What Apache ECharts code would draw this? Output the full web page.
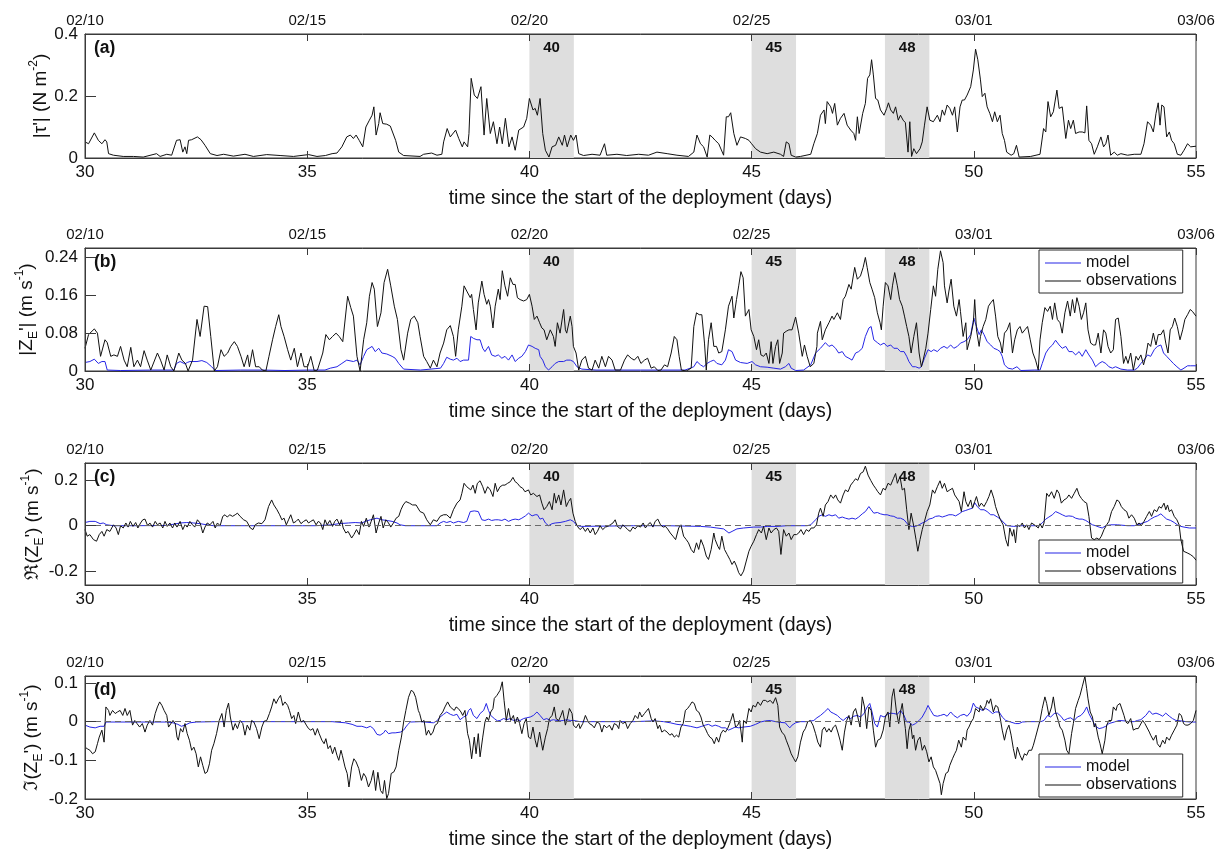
<!DOCTYPE html>
<html>
<head>
<meta charset="utf-8">
<script src="https://cdn.jsdelivr.net/npm/echarts@6/dist/echarts.min.js"></script>
<style>
html,body{margin:0;padding:0;background:#fff}
#chart{width:1225px;height:852px}
</style>
</head>
<body>
<div id="chart"></div>
<script>
// Day ticks (bottom axis) and calendar dates (top axis)
const dayTicks = [30, 35, 40, 45, 50, 55];
const dateLabels = ['02/10', '02/15', '02/20', '02/25', '03/01', '03/06'];
// Highlighted days: shaded from day to day + 1
const eventDays = [40, 45, 48];

// (a) wind stress anomaly magnitude [day, N m^-2]
const tauObs = [[30.00,0.052],[30.08,0.046],[30.21,0.081],[30.30,0.057],[30.38,0.046],[30.45,0.059],[30.49,0.052],[30.53,0.014],[30.64,0.009],[30.86,0.005],[31.09,0.005],[31.31,0.003],[31.61,0.014],[31.69,0.005],[31.84,0.012],[31.95,0.009],[32.06,0.057],[32.14,0.059],[32.20,0.019],[32.25,0.036],[32.29,0.014],[32.33,0.057],[32.40,0.059],[32.53,0.068],[32.61,0.059],[32.70,0.041],[32.82,0.014],[32.97,0.008],[33.12,0.012],[33.34,0.006],[33.60,0.012],[33.79,0.005],[34.09,0.011],[34.39,0.008],[34.69,0.005],[35.03,0.011],[35.22,0.005],[35.41,0.008],[35.56,0.014],[35.67,0.016],[35.78,0.036],[35.89,0.068],[35.97,0.074],[36.04,0.063],[36.10,0.074],[36.17,0.057],[36.25,0.036],[36.32,0.100],[36.40,0.122],[36.46,0.138],[36.50,0.165],[36.55,0.074],[36.61,0.111],[36.64,0.146],[36.70,0.111],[36.79,0.109],[36.87,0.103],[36.91,0.106],[36.99,0.057],[37.06,0.019],[37.17,0.008],[37.54,0.005],[37.62,0.012],[37.80,0.016],[37.92,0.009],[38.03,0.012],[38.07,0.052],[38.15,0.095],[38.22,0.068],[38.34,0.090],[38.41,0.063],[38.49,0.036],[38.53,0.052],[38.61,0.036],[38.64,0.079],[38.69,0.257],[38.76,0.203],[38.83,0.192],[38.91,0.230],[38.98,0.074],[39.04,0.192],[39.12,0.079],[39.19,0.117],[39.27,0.046],[39.33,0.100],[39.39,0.046],[39.46,0.128],[39.54,0.036],[39.61,0.068],[39.68,0.025],[39.76,0.090],[39.87,0.100],[39.94,0.128],[40.00,0.192],[40.08,0.155],[40.13,0.160],[40.18,0.138],[40.24,0.192],[40.30,0.079],[40.36,0.025],[40.44,0.003],[40.51,0.036],[40.59,0.041],[40.66,0.068],[40.74,0.041],[40.79,0.074],[40.85,0.036],[40.93,0.074],[40.99,0.057],[41.05,0.074],[41.11,0.014],[41.22,0.008],[41.41,0.012],[41.59,0.009],[41.69,0.046],[41.74,0.009],[41.97,0.012],[42.19,0.008],[42.46,0.012],[42.68,0.009],[42.87,0.019],[43.10,0.014],[43.32,0.009],[43.58,0.005],[43.70,0.019],[43.77,0.074],[43.85,0.046],[43.92,0.036],[44.00,0.003],[44.06,0.074],[44.11,0.068],[44.18,0.057],[44.26,0.046],[44.37,0.009],[44.43,0.133],[44.48,0.133],[44.53,0.146],[44.60,0.079],[44.67,0.041],[44.75,0.068],[44.86,0.063],[44.94,0.057],[45.00,0.046],[45.09,0.030],[45.20,0.019],[45.35,0.014],[45.50,0.019],[45.65,0.012],[45.72,0.005],[45.78,0.052],[45.84,0.046],[45.89,0.009],[45.99,0.003],[46.10,0.005],[46.33,0.012],[46.40,0.046],[46.48,0.079],[46.55,0.138],[46.63,0.155],[46.66,0.111],[46.70,0.182],[46.78,0.165],[46.82,0.144],[46.87,0.176],[46.93,0.106],[47.00,0.128],[47.08,0.144],[47.15,0.106],[47.23,0.090],[47.30,0.079],[47.34,0.057],[47.38,0.133],[47.42,0.079],[47.50,0.144],[47.56,0.176],[47.61,0.257],[47.66,0.268],[47.70,0.317],[47.74,0.268],[47.79,0.192],[47.84,0.187],[47.90,0.155],[47.98,0.138],[48.04,0.160],[48.08,0.178],[48.13,0.155],[48.19,0.144],[48.24,0.165],[48.30,0.122],[48.35,0.138],[48.41,0.122],[48.46,0.114],[48.52,0.019],[48.56,0.117],[48.60,0.005],[48.65,0.030],[48.71,0.014],[48.79,0.030],[48.84,0.052],[48.89,0.106],[48.95,0.165],[49.01,0.122],[49.09,0.117],[49.18,0.138],[49.24,0.117],[49.29,0.155],[49.34,0.138],[49.40,0.171],[49.46,0.160],[49.52,0.138],[49.57,0.165],[49.63,0.084],[49.69,0.165],[49.74,0.187],[49.79,0.187],[49.85,0.203],[49.93,0.230],[49.99,0.284],[50.04,0.351],[50.09,0.317],[50.15,0.252],[50.19,0.198],[50.25,0.209],[50.30,0.165],[50.36,0.144],[50.42,0.117],[50.47,0.149],[50.53,0.117],[50.59,0.138],[50.64,0.079],[50.69,0.057],[50.74,0.019],[50.84,0.009],[50.90,0.014],[50.96,0.041],[51.02,0.003],[51.28,0.005],[51.49,0.012],[51.57,0.095],[51.62,0.084],[51.67,0.182],[51.73,0.133],[51.79,0.149],[51.87,0.219],[51.92,0.160],[51.99,0.165],[52.07,0.063],[52.13,0.122],[52.18,0.095],[52.24,0.122],[52.29,0.079],[52.37,0.084],[52.44,0.084],[52.50,0.081],[52.54,0.168],[52.59,0.057],[52.65,0.046],[52.71,0.012],[52.78,0.036],[52.86,0.068],[52.92,0.036],[52.97,0.046],[53.02,0.074],[53.08,0.009],[53.16,0.019],[53.23,0.009],[53.31,0.014],[53.46,0.009],[53.61,0.012],[53.76,0.012],[53.83,0.046],[53.91,0.117],[53.98,0.106],[54.04,0.084],[54.10,0.144],[54.15,0.178],[54.19,0.106],[54.23,0.171],[54.28,0.165],[54.34,0.068],[54.40,0.084],[54.45,0.057],[54.51,0.046],[54.58,0.012],[54.66,0.009],[54.73,0.025],[54.81,0.046],[54.88,0.036],[55.00,0.038]];

// (b) magnitude of the Ekman velocity anomaly [day, m s^-1]
const zAbsModel = [[30.00,0.018],[30.11,0.020],[30.21,0.025],[30.30,0.016],[30.38,0.020],[30.45,0.020],[30.50,0.002],[30.80,0.001],[31.50,0.002],[32.00,0.002],[32.06,0.016],[32.14,0.020],[32.25,0.015],[32.30,0.018],[32.36,0.020],[32.52,0.020],[32.63,0.022],[32.74,0.018],[32.85,0.009],[32.93,0.001],[33.50,0.002],[34.00,0.002],[34.50,0.001],[35.00,0.002],[35.40,0.002],[35.52,0.006],[35.67,0.009],[35.78,0.016],[35.89,0.023],[36.04,0.020],[36.12,0.023],[36.19,0.013],[36.27,0.031],[36.34,0.045],[36.46,0.052],[36.53,0.041],[36.61,0.048],[36.68,0.038],[36.79,0.036],[36.91,0.031],[36.98,0.027],[37.06,0.016],[37.17,0.004],[37.55,0.002],[38.00,0.006],[38.07,0.016],[38.14,0.029],[38.22,0.025],[38.29,0.023],[38.37,0.027],[38.44,0.020],[38.52,0.023],[38.63,0.023],[38.68,0.073],[38.74,0.069],[38.82,0.066],[38.89,0.066],[38.95,0.048],[39.00,0.041],[39.08,0.052],[39.15,0.034],[39.23,0.031],[39.30,0.034],[39.38,0.027],[39.45,0.031],[39.53,0.023],[39.61,0.034],[39.68,0.020],[39.76,0.027],[39.83,0.031],[39.91,0.041],[39.98,0.055],[40.06,0.052],[40.13,0.048],[40.21,0.045],[40.24,0.031],[40.30,0.023],[40.36,0.009],[40.43,0.002],[40.51,0.009],[40.58,0.016],[40.66,0.020],[40.77,0.020],[40.84,0.023],[40.92,0.023],[40.99,0.020],[41.07,0.009],[41.18,0.004],[41.50,0.002],[42.00,0.002],[42.50,0.002],[43.00,0.002],[43.50,0.002],[43.62,0.006],[43.70,0.009],[43.77,0.020],[43.85,0.013],[43.92,0.009],[44.00,0.016],[44.07,0.020],[44.15,0.023],[44.22,0.016],[44.33,0.013],[44.41,0.023],[44.48,0.045],[44.56,0.041],[44.64,0.023],[44.75,0.018],[44.90,0.016],[45.01,0.020],[45.09,0.013],[45.20,0.009],[45.35,0.008],[45.50,0.006],[45.65,0.004],[45.76,0.009],[45.84,0.016],[45.89,0.006],[45.99,0.001],[46.17,0.002],[46.33,0.013],[46.44,0.038],[46.55,0.048],[46.66,0.060],[46.74,0.052],[46.81,0.055],[46.89,0.048],[46.96,0.038],[47.04,0.041],[47.11,0.031],[47.19,0.027],[47.26,0.023],[47.34,0.038],[47.41,0.041],[47.49,0.048],[47.56,0.073],[47.64,0.091],[47.69,0.094],[47.75,0.066],[47.83,0.060],[47.90,0.055],[47.98,0.059],[48.05,0.052],[48.13,0.055],[48.20,0.048],[48.28,0.048],[48.35,0.041],[48.43,0.041],[48.49,0.031],[48.54,0.020],[48.62,0.009],[48.69,0.009],[48.77,0.006],[48.82,0.009],[48.89,0.027],[48.97,0.045],[49.04,0.041],[49.10,0.045],[49.18,0.041],[49.25,0.048],[49.33,0.052],[49.40,0.048],[49.48,0.055],[49.55,0.048],[49.63,0.052],[49.70,0.059],[49.78,0.062],[49.85,0.066],[49.93,0.077],[50.00,0.112],[50.06,0.094],[50.12,0.077],[50.17,0.087],[50.23,0.077],[50.30,0.062],[50.38,0.055],[50.45,0.048],[50.53,0.045],[50.59,0.041],[50.64,0.031],[50.69,0.013],[50.77,0.006],[50.87,0.004],[50.97,0.009],[51.06,0.001],[51.36,0.002],[51.49,0.002],[51.54,0.016],[51.62,0.038],[51.69,0.048],[51.77,0.055],[51.84,0.065],[51.92,0.055],[51.99,0.048],[52.07,0.052],[52.14,0.041],[52.22,0.041],[52.29,0.034],[52.37,0.041],[52.44,0.031],[52.52,0.045],[52.59,0.034],[52.67,0.023],[52.74,0.009],[52.82,0.016],[52.89,0.020],[52.97,0.016],[53.04,0.009],[53.12,0.006],[53.19,0.009],[53.31,0.004],[53.46,0.002],[53.61,0.002],[53.68,0.006],[53.76,0.016],[53.83,0.023],[53.91,0.034],[53.98,0.031],[54.06,0.045],[54.13,0.052],[54.21,0.055],[54.27,0.038],[54.34,0.031],[54.42,0.023],[54.49,0.016],[54.57,0.009],[54.66,0.002],[54.73,0.006],[54.81,0.011],[54.88,0.011],[55.00,0.011]];
const zAbsObs = [[30.00,0.048],[30.08,0.077],[30.21,0.089],[30.28,0.080],[30.35,0.031],[30.45,0.066],[30.50,0.060],[30.58,0.031],[30.65,0.034],[30.73,0.031],[30.80,0.052],[30.88,0.023],[30.95,0.009],[31.03,0.050],[31.10,0.009],[31.18,0.023],[31.25,0.009],[31.33,0.043],[31.40,0.023],[31.48,0.002],[31.63,0.038],[31.70,0.023],[31.78,0.002],[31.85,0.034],[31.93,0.009],[32.00,0.000],[32.11,0.038],[32.18,0.023],[32.26,0.016],[32.32,0.000],[32.42,0.023],[32.52,0.109],[32.59,0.073],[32.68,0.137],[32.76,0.136],[32.83,0.073],[32.91,0.000],[32.98,0.009],[33.06,0.045],[33.13,0.031],[33.21,0.038],[33.28,0.052],[33.36,0.062],[33.43,0.052],[33.51,0.031],[33.58,0.009],[33.66,0.034],[33.70,0.009],[33.77,0.045],[33.84,0.009],[33.92,0.009],[33.99,0.002],[34.07,0.000],[34.14,0.031],[34.22,0.066],[34.29,0.094],[34.36,0.119],[34.41,0.094],[34.48,0.073],[34.56,0.045],[34.63,0.023],[34.71,0.048],[34.78,0.009],[34.86,0.038],[34.93,0.009],[35.01,0.009],[35.08,0.031],[35.16,0.000],[35.23,0.002],[35.35,0.038],[35.42,0.077],[35.50,0.066],[35.57,0.073],[35.65,0.080],[35.72,0.073],[35.80,0.062],[35.91,0.158],[35.98,0.134],[36.04,0.116],[36.12,0.031],[36.19,0.000],[36.27,0.066],[36.34,0.102],[36.40,0.158],[36.46,0.187],[36.51,0.173],[36.58,0.094],[36.66,0.123],[36.73,0.187],[36.81,0.215],[36.88,0.180],[36.96,0.137],[37.03,0.109],[37.11,0.045],[37.17,0.023],[37.26,0.080],[37.33,0.109],[37.41,0.116],[37.49,0.102],[37.54,0.073],[37.62,0.031],[37.69,0.020],[37.77,0.006],[37.84,0.023],[37.92,0.009],[37.99,0.038],[38.07,0.059],[38.14,0.087],[38.22,0.096],[38.29,0.073],[38.34,0.031],[38.40,0.087],[38.48,0.137],[38.53,0.180],[38.59,0.169],[38.63,0.173],[38.67,0.155],[38.70,0.162],[38.74,0.130],[38.80,0.087],[38.85,0.144],[38.93,0.190],[38.98,0.162],[39.04,0.141],[39.08,0.151],[39.12,0.137],[39.18,0.091],[39.23,0.137],[39.30,0.173],[39.34,0.151],[39.39,0.212],[39.45,0.180],[39.51,0.158],[39.57,0.197],[39.63,0.183],[39.68,0.183],[39.73,0.155],[39.79,0.151],[39.87,0.148],[39.94,0.151],[40.00,0.162],[40.06,0.137],[40.11,0.109],[40.17,0.116],[40.23,0.102],[40.28,0.091],[40.33,0.087],[40.39,0.066],[40.47,0.087],[40.54,0.073],[40.58,0.052],[40.63,0.102],[40.69,0.080],[40.77,0.130],[40.81,0.087],[40.84,0.080],[40.92,0.116],[40.96,0.094],[40.99,0.052],[41.05,0.038],[41.11,0.002],[41.18,0.023],[41.26,0.031],[41.33,0.006],[41.41,0.002],[41.48,0.023],[41.56,0.006],[41.63,0.031],[41.71,0.009],[41.78,0.031],[41.86,0.023],[41.93,0.002],[42.05,0.002],[42.14,0.023],[42.21,0.034],[42.29,0.027],[42.36,0.023],[42.44,0.031],[42.51,0.016],[42.59,0.023],[42.66,0.027],[42.74,0.006],[42.81,0.009],[42.89,0.001],[42.96,0.002],[43.04,0.013],[43.11,0.009],[43.19,0.038],[43.26,0.073],[43.32,0.066],[43.37,0.031],[43.42,0.002],[43.53,0.000],[43.64,0.006],[43.70,0.094],[43.76,0.123],[43.82,0.119],[43.88,0.119],[43.94,0.059],[43.98,0.002],[44.03,0.066],[44.09,0.102],[44.15,0.052],[44.21,0.052],[44.26,0.038],[44.33,0.041],[44.41,0.087],[44.48,0.137],[44.56,0.158],[44.60,0.112],[44.66,0.151],[44.71,0.180],[44.76,0.210],[44.81,0.197],[44.86,0.116],[44.94,0.130],[44.99,0.087],[45.05,0.073],[45.11,0.045],[45.16,0.066],[45.21,0.034],[45.27,0.031],[45.33,0.038],[45.39,0.016],[45.44,0.062],[45.48,0.016],[45.54,0.052],[45.59,0.066],[45.63,0.016],[45.69,0.038],[45.72,0.080],[45.78,0.084],[45.84,0.087],[45.91,0.087],[45.99,0.114],[46.06,0.080],[46.14,0.031],[46.19,0.055],[46.25,0.031],[46.32,0.009],[46.40,0.016],[46.47,0.052],[46.48,0.080],[46.55,0.105],[46.59,0.066],[46.66,0.087],[46.74,0.102],[46.81,0.116],[46.85,0.109],[46.93,0.123],[47.00,0.109],[47.06,0.151],[47.11,0.158],[47.19,0.183],[47.24,0.173],[47.32,0.219],[47.38,0.194],[47.45,0.201],[47.51,0.219],[47.56,0.240],[47.60,0.219],[47.66,0.187],[47.71,0.173],[47.77,0.155],[47.83,0.123],[47.89,0.102],[47.92,0.087],[47.96,0.137],[48.01,0.187],[48.07,0.180],[48.13,0.151],[48.17,0.180],[48.22,0.208],[48.28,0.180],[48.33,0.151],[48.39,0.137],[48.44,0.116],[48.49,0.094],[48.54,0.073],[48.59,0.038],[48.65,0.073],[48.71,0.102],[48.77,0.038],[48.82,0.009],[48.86,0.023],[48.92,0.048],[48.97,0.080],[49.03,0.130],[49.09,0.180],[49.14,0.158],[49.19,0.215],[49.25,0.254],[49.31,0.229],[49.34,0.180],[49.40,0.144],[49.44,0.169],[49.49,0.194],[49.55,0.137],[49.61,0.116],[49.67,0.151],[49.70,0.126],[49.76,0.073],[49.82,0.102],[49.85,0.045],[49.93,0.073],[49.99,0.102],[50.02,0.151],[50.06,0.087],[50.12,0.052],[50.15,0.073],[50.21,0.094],[50.27,0.109],[50.33,0.137],[50.38,0.144],[50.44,0.151],[50.49,0.116],[50.54,0.073],[50.60,0.059],[50.64,0.038],[50.69,0.080],[50.75,0.087],[50.81,0.102],[50.87,0.038],[50.92,0.066],[50.98,0.087],[51.04,0.094],[51.09,0.080],[51.15,0.087],[51.21,0.094],[51.27,0.066],[51.33,0.038],[51.39,0.023],[51.45,0.002],[51.49,0.066],[51.54,0.102],[51.60,0.134],[51.66,0.126],[51.72,0.137],[51.77,0.109],[51.82,0.144],[51.88,0.109],[51.94,0.102],[51.99,0.080],[52.05,0.123],[52.11,0.148],[52.17,0.116],[52.22,0.151],[52.27,0.123],[52.32,0.155],[52.37,0.137],[52.42,0.109],[52.47,0.123],[52.52,0.144],[52.57,0.087],[52.63,0.059],[52.69,0.055],[52.74,0.055],[52.80,0.080],[52.86,0.038],[52.92,0.087],[52.97,0.080],[53.02,0.052],[53.08,0.038],[53.14,0.045],[53.19,0.109],[53.25,0.112],[53.31,0.073],[53.37,0.016],[53.42,0.031],[53.47,0.016],[53.53,0.038],[53.59,0.002],[53.65,0.031],[53.70,0.023],[53.76,0.034],[53.82,0.013],[53.87,0.031],[53.92,0.059],[53.98,0.052],[54.04,0.080],[54.10,0.055],[54.15,0.077],[54.21,0.077],[54.27,0.087],[54.32,0.059],[54.37,0.038],[54.42,0.087],[54.47,0.094],[54.52,0.112],[54.58,0.094],[54.64,0.066],[54.70,0.087],[54.75,0.109],[54.81,0.119],[54.87,0.130],[54.92,0.126],[55.00,0.116]];

// (c) real part of the Ekman velocity anomaly [day, m s^-1]
const zReModel = [[30.00,0.014],[30.11,0.019],[30.23,0.019],[30.34,0.009],[30.41,0.012],[30.49,0.004],[30.64,0.000],[31.09,0.000],[31.84,0.001],[32.14,0.012],[32.29,0.014],[32.44,0.012],[32.59,0.009],[32.74,0.004],[32.89,0.000],[34.89,0.000],[35.19,0.000],[35.56,0.004],[35.71,0.009],[35.93,0.012],[36.08,0.014],[36.23,0.012],[36.31,0.019],[36.42,0.026],[36.57,0.033],[36.68,0.026],[36.79,0.023],[36.91,0.019],[37.02,0.012],[37.09,0.004],[37.21,0.000],[37.92,0.000],[37.99,0.012],[38.07,0.019],[38.14,0.014],[38.22,0.019],[38.29,0.012],[38.40,0.019],[38.52,0.014],[38.59,0.019],[38.67,0.062],[38.76,0.065],[38.85,0.062],[38.93,0.026],[39.00,0.023],[39.08,0.029],[39.15,0.023],[39.23,0.026],[39.30,0.026],[39.38,0.023],[39.45,0.029],[39.53,0.019],[39.61,0.026],[39.68,0.029],[39.76,0.026],[39.83,0.033],[39.91,0.043],[39.98,0.055],[40.06,0.043],[40.13,0.048],[40.18,0.048],[40.24,0.029],[40.30,0.033],[40.36,0.012],[40.43,0.000],[40.51,0.009],[40.58,0.012],[40.69,0.014],[40.81,0.019],[40.92,0.026],[40.99,0.019],[41.07,0.000],[41.18,-0.003],[42.34,0.000],[43.10,0.000],[43.85,-0.003],[44.07,-0.006],[44.22,-0.010],[44.37,-0.014],[44.49,-0.032],[44.56,-0.025],[44.67,-0.014],[44.82,-0.010],[45.05,-0.006],[45.20,-0.006],[45.35,-0.003],[45.57,-0.003],[45.80,0.000],[46.02,0.000],[46.25,0.000],[46.33,0.004],[46.44,0.026],[46.51,0.041],[46.59,0.048],[46.66,0.041],[46.74,0.048],[46.81,0.043],[46.89,0.048],[46.96,0.033],[47.04,0.038],[47.11,0.033],[47.19,0.029],[47.26,0.033],[47.34,0.029],[47.41,0.038],[47.49,0.052],[47.56,0.062],[47.64,0.084],[47.69,0.070],[47.75,0.055],[47.83,0.058],[47.90,0.052],[47.98,0.048],[48.05,0.048],[48.13,0.043],[48.20,0.041],[48.28,0.033],[48.35,0.033],[48.43,0.026],[48.49,0.012],[48.54,0.000],[48.62,-0.003],[48.69,-0.003],[48.77,0.004],[48.84,0.012],[48.92,0.019],[48.99,0.029],[49.07,0.033],[49.14,0.041],[49.22,0.043],[49.29,0.038],[49.37,0.043],[49.44,0.048],[49.52,0.048],[49.59,0.043],[49.67,0.052],[49.74,0.062],[49.82,0.067],[49.89,0.072],[49.97,0.077],[50.02,0.101],[50.08,0.084],[50.15,0.070],[50.23,0.070],[50.30,0.062],[50.38,0.048],[50.45,0.048],[50.53,0.038],[50.60,0.029],[50.68,0.012],[50.75,0.000],[50.90,-0.003],[51.05,0.000],[51.47,0.000],[51.54,0.012],[51.62,0.029],[51.69,0.038],[51.77,0.048],[51.84,0.062],[51.92,0.055],[51.99,0.048],[52.07,0.041],[52.14,0.043],[52.22,0.041],[52.29,0.033],[52.37,0.029],[52.44,0.029],[52.52,0.023],[52.59,0.014],[52.67,0.004],[52.74,0.000],[52.82,-0.006],[52.89,-0.010],[52.97,0.000],[53.08,0.004],[53.23,0.004],[53.46,0.000],[53.61,0.000],[53.68,0.004],[53.76,0.009],[53.83,0.014],[53.91,0.019],[53.98,0.029],[54.06,0.038],[54.13,0.043],[54.21,0.052],[54.27,0.041],[54.34,0.029],[54.43,0.023],[54.51,0.014],[54.58,0.004],[54.66,-0.003],[54.73,-0.006],[54.85,-0.010],[55.00,-0.010]];
const zReObs = [[30.00,-0.017],[30.05,-0.046],[30.11,-0.039],[30.19,-0.061],[30.26,-0.068],[30.32,-0.039],[30.38,-0.025],[30.43,-0.046],[30.49,-0.017],[30.56,-0.025],[30.64,0.004],[30.70,-0.010],[30.75,-0.039],[30.80,0.000],[30.86,-0.010],[30.92,0.012],[30.97,-0.006],[31.02,0.019],[31.08,-0.003],[31.14,0.014],[31.19,-0.010],[31.25,0.012],[31.30,0.026],[31.35,0.029],[31.41,0.000],[31.46,0.012],[31.52,-0.006],[31.58,0.019],[31.63,0.004],[31.69,0.012],[31.75,-0.010],[31.80,0.019],[31.85,-0.003],[31.91,0.012],[31.97,-0.010],[32.02,0.012],[32.07,-0.006],[32.14,0.019],[32.20,-0.017],[32.25,0.004],[32.30,-0.006],[32.36,0.019],[32.42,0.004],[32.47,-0.006],[32.53,0.026],[32.59,0.012],[32.65,-0.032],[32.70,-0.006],[32.75,0.012],[32.81,0.004],[32.88,0.019],[32.93,-0.010],[32.98,0.012],[33.04,0.000],[33.10,0.041],[33.15,0.048],[33.20,0.038],[33.26,0.048],[33.32,0.041],[33.38,0.048],[33.43,0.055],[33.49,0.041],[33.57,0.026],[33.64,0.019],[33.72,-0.010],[33.78,-0.017],[33.83,0.004],[33.90,0.012],[33.98,0.009],[34.05,0.026],[34.13,0.084],[34.20,0.113],[34.25,0.091],[34.32,0.070],[34.38,0.048],[34.43,0.026],[34.48,0.033],[34.53,0.004],[34.58,0.026],[34.63,0.048],[34.69,0.012],[34.75,0.019],[34.80,0.029],[34.86,0.009],[34.92,0.019],[34.98,0.026],[35.03,0.012],[35.08,0.019],[35.14,0.026],[35.20,0.004],[35.25,0.019],[35.30,0.012],[35.35,-0.017],[35.40,0.026],[35.45,0.004],[35.51,0.023],[35.57,-0.003],[35.62,0.019],[35.67,0.029],[35.73,0.004],[35.77,0.026],[35.81,-0.010],[35.87,-0.032],[35.92,-0.025],[36.00,-0.054],[36.05,-0.039],[36.11,-0.017],[36.17,-0.039],[36.22,0.019],[36.27,-0.003],[36.33,0.033],[36.39,-0.006],[36.44,0.019],[36.49,0.048],[36.55,-0.032],[36.61,0.012],[36.66,0.041],[36.71,-0.010],[36.77,0.026],[36.83,0.012],[36.88,-0.006],[36.94,0.012],[37.00,0.033],[37.06,0.041],[37.11,0.070],[37.16,0.091],[37.22,0.106],[37.30,0.099],[37.37,0.091],[37.45,0.091],[37.54,0.062],[37.62,0.055],[37.69,0.026],[37.77,0.004],[37.84,0.026],[37.92,0.019],[37.99,0.041],[38.07,0.048],[38.14,0.048],[38.22,0.033],[38.29,0.070],[38.37,0.099],[38.44,0.113],[38.48,0.142],[38.53,0.186],[38.59,0.171],[38.63,0.178],[38.68,0.157],[38.73,0.178],[38.78,0.142],[38.83,0.186],[38.89,0.197],[38.95,0.171],[39.00,0.142],[39.06,0.171],[39.12,0.157],[39.18,0.128],[39.23,0.186],[39.28,0.149],[39.34,0.171],[39.40,0.178],[39.45,0.178],[39.51,0.186],[39.57,0.193],[39.63,0.212],[39.68,0.193],[39.73,0.186],[39.79,0.171],[39.85,0.164],[39.90,0.149],[39.98,0.157],[40.03,0.135],[40.09,0.142],[40.17,0.128],[40.23,0.135],[40.28,0.099],[40.33,0.070],[40.39,0.084],[40.45,0.106],[40.51,0.070],[40.56,0.142],[40.60,0.099],[40.66,0.135],[40.71,0.091],[40.77,0.157],[40.83,0.084],[40.88,0.106],[40.93,0.120],[40.98,0.055],[41.03,0.019],[41.08,-0.003],[41.14,-0.017],[41.20,-0.006],[41.26,-0.025],[41.31,-0.010],[41.37,-0.032],[41.43,-0.010],[41.48,-0.039],[41.53,-0.025],[41.59,0.000],[41.65,-0.017],[41.71,-0.006],[41.76,-0.003],[41.82,0.004],[41.88,0.012],[41.93,0.026],[41.98,-0.003],[42.05,-0.014],[42.10,0.004],[42.16,-0.006],[42.21,-0.017],[42.27,-0.025],[42.33,-0.006],[42.38,-0.014],[42.44,0.000],[42.50,-0.006],[42.56,0.012],[42.61,-0.010],[42.66,0.004],[42.72,0.014],[42.78,-0.006],[42.83,0.019],[42.89,0.029],[42.95,0.004],[43.01,-0.006],[43.06,-0.003],[43.11,-0.014],[43.17,-0.032],[43.23,-0.046],[43.29,-0.061],[43.36,-0.010],[43.41,0.004],[43.47,-0.046],[43.53,-0.061],[43.58,-0.075],[43.64,-0.104],[43.70,-0.119],[43.76,-0.075],[43.81,-0.104],[43.86,-0.061],[43.92,-0.090],[43.98,-0.133],[44.03,-0.148],[44.09,-0.104],[44.15,-0.032],[44.18,-0.061],[44.24,-0.090],[44.28,-0.104],[44.33,-0.046],[44.39,-0.104],[44.45,-0.126],[44.51,-0.148],[44.56,-0.170],[44.61,-0.155],[44.66,-0.177],[44.71,-0.206],[44.76,-0.220],[44.82,-0.199],[44.88,-0.155],[44.94,-0.112],[44.99,-0.090],[45.05,-0.068],[45.11,-0.039],[45.16,-0.017],[45.22,-0.032],[45.27,-0.003],[45.33,-0.061],[45.39,-0.010],[45.44,-0.032],[45.50,-0.017],[45.56,-0.010],[45.61,-0.025],[45.66,-0.126],[45.72,-0.017],[45.78,-0.046],[45.84,-0.032],[45.89,-0.061],[45.95,-0.039],[46.01,-0.039],[46.06,-0.032],[46.11,-0.017],[46.17,-0.039],[46.23,-0.017],[46.29,-0.025],[46.34,-0.010],[46.40,-0.010],[46.46,0.004],[46.51,0.055],[46.55,0.077],[46.61,0.041],[46.66,0.091],[46.72,0.106],[46.78,0.135],[46.84,0.120],[46.89,0.135],[46.94,0.113],[47.00,0.099],[47.06,0.135],[47.11,0.157],[47.17,0.149],[47.23,0.178],[47.29,0.193],[47.34,0.206],[47.39,0.199],[47.45,0.229],[47.51,0.236],[47.56,0.261],[47.62,0.222],[47.68,0.199],[47.74,0.178],[47.79,0.164],[47.84,0.149],[47.90,0.135],[47.96,0.164],[48.01,0.157],[48.07,0.186],[48.13,0.178],[48.19,0.206],[48.24,0.229],[48.28,0.186],[48.34,0.215],[48.39,0.157],[48.44,0.164],[48.49,0.070],[48.54,-0.017],[48.59,0.055],[48.65,-0.003],[48.70,-0.061],[48.74,-0.112],[48.79,-0.061],[48.84,-0.017],[48.89,0.019],[48.95,0.062],[49.01,0.091],[49.07,0.157],[49.12,0.142],[49.18,0.171],[49.24,0.197],[49.29,0.164],[49.34,0.186],[49.40,0.149],[49.46,0.157],[49.52,0.164],[49.57,0.135],[49.61,0.142],[49.67,0.106],[49.72,0.062],[49.78,0.149],[49.82,0.106],[49.87,0.084],[49.93,0.113],[49.97,0.077],[50.02,0.106],[50.06,0.128],[50.12,0.084],[50.17,0.099],[50.23,0.084],[50.29,0.106],[50.34,0.128],[50.39,0.157],[50.45,0.120],[50.49,0.084],[50.54,0.055],[50.60,0.026],[50.66,0.004],[50.72,-0.061],[50.77,-0.090],[50.81,-0.010],[50.87,-0.046],[50.90,-0.017],[50.94,-0.075],[50.98,0.004],[51.04,-0.003],[51.09,0.012],[51.14,-0.010],[51.19,0.004],[51.24,-0.017],[51.30,0.012],[51.34,0.004],[51.39,0.000],[51.45,-0.010],[51.49,0.009],[51.54,-0.010],[51.58,0.012],[51.64,0.142],[51.69,0.128],[51.75,0.149],[51.81,0.120],[51.87,0.157],[51.92,0.142],[51.97,0.099],[52.03,0.113],[52.09,0.120],[52.14,0.135],[52.20,0.120],[52.26,0.142],[52.32,0.164],[52.37,0.135],[52.42,0.120],[52.48,0.106],[52.54,0.099],[52.59,0.041],[52.65,-0.054],[52.71,-0.061],[52.77,-0.054],[52.82,-0.061],[52.87,-0.046],[52.93,-0.017],[52.99,0.004],[53.04,0.019],[53.10,0.062],[53.16,0.084],[53.22,0.113],[53.27,0.106],[53.32,0.084],[53.38,0.070],[53.44,0.062],[53.49,0.033],[53.55,0.048],[53.61,0.033],[53.67,0.004],[53.72,0.012],[53.77,0.000],[53.83,0.019],[53.89,0.041],[53.95,0.062],[54.00,0.041],[54.06,0.070],[54.12,0.062],[54.17,0.084],[54.22,0.077],[54.28,0.099],[54.32,0.070],[54.36,0.091],[54.40,0.062],[54.45,0.070],[54.51,0.041],[54.57,0.026],[54.62,0.004],[54.66,-0.061],[54.72,-0.112],[54.80,-0.119],[54.87,-0.126],[54.94,-0.136],[55.00,-0.151]];

// (d) imaginary part of the Ekman velocity anomaly [day, m s^-1]
const zImModel = [[30.00,-0.009],[30.11,-0.014],[30.23,-0.016],[30.34,-0.012],[30.43,-0.012],[30.47,-0.001],[30.56,-0.001],[31.08,-0.001],[31.83,-0.001],[31.98,-0.003],[32.09,-0.007],[32.17,-0.012],[32.25,-0.009],[32.36,-0.003],[32.51,-0.001],[32.96,0.000],[35.56,0.000],[35.86,-0.003],[36.01,-0.007],[36.12,-0.012],[36.23,-0.012],[36.34,-0.016],[36.42,-0.012],[36.49,-0.018],[36.57,-0.033],[36.64,-0.035],[36.72,-0.029],[36.76,-0.022],[36.83,-0.031],[36.91,-0.029],[36.98,-0.029],[37.10,-0.027],[37.17,-0.022],[37.25,-0.009],[37.32,-0.001],[37.55,0.000],[37.84,-0.003],[37.92,0.002],[37.99,0.012],[38.07,0.019],[38.14,0.025],[38.22,0.019],[38.29,0.016],[38.37,0.019],[38.44,0.005],[38.52,0.012],[38.59,0.016],[38.63,0.029],[38.68,0.034],[38.74,0.016],[38.82,0.008],[38.89,0.021],[38.97,0.029],[39.03,0.047],[39.08,0.029],[39.13,0.016],[39.21,0.008],[39.28,0.002],[39.34,0.003],[39.42,0.008],[39.49,0.005],[39.57,0.008],[39.64,0.003],[39.72,0.005],[39.79,0.003],[39.87,0.008],[39.94,0.010],[40.02,0.012],[40.09,0.016],[40.17,0.025],[40.24,0.016],[40.32,0.005],[40.39,0.008],[40.47,0.003],[40.54,0.005],[40.62,0.003],[40.69,0.002],[40.77,0.003],[40.84,0.005],[40.92,0.003],[40.99,0.003],[41.14,0.000],[42.35,0.000],[42.80,0.002],[43.02,0.000],[43.17,-0.003],[43.32,-0.007],[43.47,-0.009],[43.62,-0.012],[43.77,-0.016],[43.88,-0.012],[43.96,-0.009],[44.03,-0.007],[44.11,-0.012],[44.18,-0.009],[44.26,-0.012],[44.33,-0.016],[44.41,-0.016],[44.48,-0.022],[44.56,-0.018],[44.63,-0.014],[44.71,-0.016],[44.82,-0.014],[44.97,-0.012],[45.09,-0.007],[45.20,-0.001],[45.31,0.002],[45.42,0.003],[45.54,0.000],[45.65,-0.002],[45.76,-0.003],[45.80,-0.009],[45.86,-0.016],[45.91,-0.009],[45.99,-0.003],[46.10,0.000],[46.25,0.000],[46.40,0.003],[46.47,0.010],[46.55,0.016],[46.59,0.020],[46.64,0.025],[46.72,0.034],[46.78,0.025],[46.85,0.021],[46.93,0.016],[47.00,0.008],[47.06,0.003],[47.15,0.012],[47.23,0.008],[47.30,0.014],[47.38,0.016],[47.45,0.012],[47.53,0.021],[47.60,0.038],[47.66,0.047],[47.71,0.025],[47.77,-0.005],[47.83,-0.014],[47.90,0.016],[47.98,0.012],[48.05,0.019],[48.13,0.022],[48.20,0.021],[48.28,0.019],[48.35,0.029],[48.43,0.016],[48.49,-0.001],[48.54,-0.001],[48.62,-0.009],[48.69,-0.005],[48.77,0.003],[48.84,0.012],[48.92,0.029],[48.97,0.042],[49.03,0.029],[49.10,0.016],[49.18,0.014],[49.25,0.016],[49.33,0.019],[49.40,0.014],[49.48,0.025],[49.55,0.016],[49.63,0.010],[49.70,0.016],[49.78,0.019],[49.85,0.014],[49.93,0.025],[49.99,0.048],[50.04,0.038],[50.12,0.034],[50.19,0.029],[50.27,0.034],[50.34,0.029],[50.42,0.021],[50.49,0.025],[50.57,0.025],[50.64,0.012],[50.72,0.003],[50.83,-0.001],[50.94,-0.005],[51.02,-0.005],[51.09,-0.001],[51.21,0.000],[51.51,0.000],[51.58,0.003],[51.66,0.016],[51.73,0.012],[51.81,0.021],[51.88,0.022],[51.96,0.014],[52.03,0.003],[52.11,0.008],[52.18,0.010],[52.26,0.003],[52.33,0.012],[52.41,0.016],[52.48,0.025],[52.54,0.038],[52.59,0.021],[52.67,0.003],[52.74,-0.012],[52.82,-0.018],[52.89,-0.016],[52.97,-0.012],[53.04,-0.005],[53.16,-0.001],[53.27,0.003],[53.38,0.002],[53.49,0.000],[53.61,0.000],[53.68,0.003],[53.76,0.005],[53.87,0.016],[53.95,0.028],[54.02,0.019],[54.10,0.022],[54.17,0.019],[54.25,0.014],[54.32,0.022],[54.40,0.014],[54.47,0.008],[54.55,0.003],[54.66,0.002],[54.77,0.000],[54.89,-0.001],[55.00,-0.001]];
const zImObs = [[30.00,-0.066],[30.05,-0.070],[30.11,-0.074],[30.17,-0.083],[30.23,-0.078],[30.28,-0.057],[30.32,-0.040],[30.38,-0.022],[30.43,-0.053],[30.47,0.038],[30.53,0.029],[30.56,0.016],[30.62,0.029],[30.68,0.021],[30.73,0.025],[30.79,0.029],[30.85,0.016],[30.90,0.034],[30.95,0.016],[31.01,0.029],[31.07,-0.009],[31.12,0.003],[31.17,-0.005],[31.23,-0.014],[31.29,-0.005],[31.35,-0.027],[31.40,-0.009],[31.46,0.003],[31.52,-0.009],[31.58,0.021],[31.63,0.038],[31.68,0.051],[31.73,0.042],[31.78,0.029],[31.84,0.016],[31.88,-0.014],[31.92,-0.009],[31.98,0.003],[32.03,-0.005],[32.07,-0.040],[32.10,-0.048],[32.15,-0.018],[32.20,-0.027],[32.25,-0.005],[32.30,-0.031],[32.35,-0.048],[32.40,-0.074],[32.45,-0.066],[32.50,-0.083],[32.55,-0.117],[32.60,-0.091],[32.65,-0.113],[32.70,-0.134],[32.75,-0.130],[32.80,-0.109],[32.85,-0.074],[32.90,-0.057],[32.96,-0.031],[33.02,0.003],[33.08,0.021],[33.13,-0.014],[33.18,0.029],[33.23,0.048],[33.27,0.012],[33.33,-0.022],[33.38,-0.005],[33.43,-0.018],[33.49,0.003],[33.55,-0.005],[33.60,-0.035],[33.65,-0.009],[33.71,-0.022],[33.75,0.003],[33.80,-0.001],[33.86,-0.018],[33.92,-0.044],[33.98,-0.014],[34.03,0.001],[34.09,0.003],[34.15,0.021],[34.20,0.038],[34.25,0.059],[34.30,0.047],[34.35,0.059],[34.40,0.068],[34.45,0.042],[34.50,0.051],[34.56,0.042],[34.60,0.029],[34.65,0.008],[34.70,0.016],[34.74,-0.005],[34.80,0.025],[34.86,-0.001],[34.92,0.003],[34.98,-0.009],[35.03,-0.018],[35.08,-0.022],[35.13,-0.018],[35.18,-0.035],[35.23,-0.018],[35.27,-0.031],[35.33,-0.048],[35.38,-0.057],[35.42,-0.044],[35.47,-0.070],[35.52,-0.062],[35.57,-0.083],[35.62,-0.066],[35.67,-0.087],[35.71,-0.100],[35.76,-0.074],[35.79,-0.087],[35.85,-0.117],[35.90,-0.134],[35.94,-0.169],[36.00,-0.117],[36.05,-0.096],[36.10,-0.104],[36.16,-0.121],[36.22,-0.152],[36.27,-0.134],[36.32,-0.143],[36.38,-0.169],[36.44,-0.152],[36.49,-0.126],[36.54,-0.178],[36.59,-0.131],[36.65,-0.178],[36.70,-0.186],[36.74,-0.152],[36.79,-0.199],[36.83,-0.186],[36.89,-0.134],[36.95,-0.130],[37.00,-0.117],[37.06,-0.074],[37.12,-0.040],[37.17,-0.001],[37.22,0.029],[37.28,0.063],[37.34,0.081],[37.39,0.077],[37.44,0.063],[37.50,0.029],[37.53,0.021],[37.58,-0.001],[37.63,0.003],[37.68,-0.035],[37.73,-0.022],[37.78,-0.035],[37.83,-0.027],[37.88,-0.009],[37.93,-0.005],[37.99,0.016],[38.05,0.025],[38.10,0.038],[38.16,0.051],[38.22,0.038],[38.25,0.042],[38.31,0.029],[38.35,0.038],[38.40,0.034],[38.46,0.025],[38.50,0.016],[38.55,0.029],[38.61,-0.031],[38.65,-0.048],[38.70,-0.096],[38.76,-0.040],[38.80,-0.083],[38.85,-0.031],[38.89,-0.091],[38.95,-0.040],[39.00,-0.001],[39.04,0.012],[39.08,0.003],[39.13,0.025],[39.18,0.034],[39.21,0.060],[39.27,0.068],[39.30,0.064],[39.34,0.081],[39.39,0.103],[39.43,0.055],[39.48,0.003],[39.53,0.034],[39.58,0.003],[39.64,0.016],[39.68,-0.005],[39.73,0.012],[39.78,-0.005],[39.83,-0.031],[39.88,-0.005],[39.93,0.008],[39.98,-0.040],[40.03,-0.044],[40.08,-0.014],[40.13,-0.048],[40.17,-0.066],[40.23,-0.027],[40.26,-0.048],[40.30,-0.074],[40.36,-0.040],[40.41,-0.018],[40.45,0.008],[40.51,0.016],[40.56,0.038],[40.60,0.008],[40.66,0.003],[40.71,0.016],[40.75,0.029],[40.81,-0.009],[40.86,0.012],[40.90,0.034],[40.96,0.021],[40.99,-0.009],[41.05,-0.016],[41.11,-0.005],[41.14,-0.018],[41.20,-0.005],[41.26,0.016],[41.31,0.003],[41.35,-0.005],[41.41,-0.009],[41.46,-0.016],[41.52,-0.001],[41.58,-0.005],[41.63,-0.027],[41.68,-0.009],[41.74,-0.016],[41.80,-0.009],[41.86,-0.022],[41.91,-0.005],[41.97,-0.009],[42.01,-0.018],[42.04,0.003],[42.10,-0.005],[42.16,-0.001],[42.21,-0.018],[42.27,-0.005],[42.33,0.003],[42.38,0.016],[42.44,0.008],[42.48,0.025],[42.53,0.012],[42.59,0.021],[42.63,0.025],[42.68,0.034],[42.74,0.008],[42.78,-0.001],[42.83,0.008],[42.89,-0.018],[42.93,-0.009],[42.98,-0.027],[43.04,-0.022],[43.10,-0.027],[43.16,-0.035],[43.21,-0.031],[43.26,-0.040],[43.31,-0.035],[43.36,-0.040],[43.41,-0.014],[43.46,-0.005],[43.51,0.029],[43.56,0.034],[43.61,0.042],[43.66,0.051],[43.71,0.047],[43.76,0.029],[43.81,0.025],[43.86,0.012],[43.91,-0.009],[43.96,-0.018],[44.01,-0.031],[44.06,-0.040],[44.11,-0.044],[44.16,-0.057],[44.21,-0.040],[44.26,-0.053],[44.31,-0.031],[44.36,-0.022],[44.41,-0.027],[44.46,-0.018],[44.52,-0.001],[44.58,0.021],[44.64,-0.014],[44.69,-0.009],[44.73,0.003],[44.79,-0.053],[44.82,0.003],[44.88,-0.005],[44.94,0.034],[44.99,0.025],[45.03,0.042],[45.09,0.038],[45.14,0.051],[45.20,0.042],[45.26,0.055],[45.31,0.055],[45.36,0.051],[45.42,0.055],[45.48,0.047],[45.54,0.062],[45.59,0.042],[45.63,-0.014],[45.68,-0.027],[45.74,-0.035],[45.78,-0.048],[45.84,-0.066],[45.89,-0.083],[45.95,-0.096],[45.99,-0.104],[46.04,-0.091],[46.10,-0.053],[46.16,-0.027],[46.21,-0.018],[46.26,-0.001],[46.32,0.003],[46.38,-0.009],[46.44,-0.031],[46.49,-0.053],[46.55,-0.066],[46.59,-0.022],[46.64,-0.014],[46.69,-0.027],[46.74,-0.018],[46.79,-0.027],[46.84,-0.014],[46.89,-0.009],[46.94,-0.027],[46.99,-0.048],[47.04,-0.074],[47.09,-0.027],[47.14,0.003],[47.19,0.016],[47.24,-0.009],[47.29,0.025],[47.34,0.034],[47.39,0.012],[47.44,-0.014],[47.49,0.064],[47.54,0.038],[47.59,-0.018],[47.64,0.038],[47.69,0.029],[47.74,-0.022],[47.79,-0.066],[47.84,-0.048],[47.90,-0.044],[47.96,-0.022],[48.01,0.012],[48.07,0.025],[48.11,-0.014],[48.16,0.064],[48.20,0.085],[48.26,0.025],[48.31,-0.005],[48.35,0.025],[48.39,0.047],[48.43,0.008],[48.46,-0.018],[48.50,-0.070],[48.54,-0.022],[48.58,-0.005],[48.62,-0.044],[48.65,-0.035],[48.69,-0.074],[48.74,-0.048],[48.79,-0.040],[48.84,-0.074],[48.89,-0.061],[48.94,-0.078],[48.99,-0.104],[49.04,-0.091],[49.09,-0.117],[49.14,-0.126],[49.19,-0.143],[49.24,-0.160],[49.27,-0.189],[49.31,-0.160],[49.37,-0.134],[49.42,-0.130],[49.46,-0.113],[49.52,-0.096],[49.57,-0.083],[49.61,-0.074],[49.66,-0.048],[49.72,-0.066],[49.76,-0.040],[49.82,-0.048],[49.85,-0.022],[49.89,-0.014],[49.94,-0.001],[49.99,0.008],[50.04,0.034],[50.08,0.038],[50.12,0.025],[50.15,0.042],[50.21,0.029],[50.27,0.042],[50.30,0.055],[50.34,0.047],[50.38,0.059],[50.44,0.025],[50.49,0.042],[50.54,0.038],[50.59,0.012],[50.64,-0.022],[50.69,-0.048],[50.74,-0.022],[50.79,-0.009],[50.84,-0.035],[50.89,-0.070],[50.94,-0.096],[50.98,-0.066],[51.04,-0.087],[51.09,-0.100],[51.14,-0.083],[51.19,-0.087],[51.24,-0.074],[51.30,-0.074],[51.34,-0.061],[51.39,-0.040],[51.45,-0.014],[51.49,0.003],[51.54,0.034],[51.60,0.064],[51.64,0.047],[51.69,0.016],[51.75,0.038],[51.79,0.064],[51.84,0.025],[51.90,0.003],[51.94,-0.014],[51.99,-0.022],[52.05,-0.048],[52.09,-0.074],[52.14,-0.083],[52.20,-0.031],[52.24,-0.005],[52.29,0.034],[52.35,0.055],[52.39,0.068],[52.44,0.090],[52.50,0.117],[52.54,0.085],[52.57,0.059],[52.62,0.025],[52.67,0.012],[52.71,-0.014],[52.74,-0.005],[52.80,-0.040],[52.84,-0.057],[52.89,-0.083],[52.95,-0.048],[52.99,-0.009],[53.04,0.003],[53.10,0.003],[53.14,0.038],[53.20,0.029],[53.23,0.042],[53.29,0.047],[53.32,0.051],[53.38,0.016],[53.42,-0.001],[53.47,-0.005],[53.53,0.008],[53.59,-0.022],[53.65,-0.018],[53.70,-0.018],[53.74,-0.018],[53.80,0.003],[53.85,-0.005],[53.89,-0.001],[53.95,-0.027],[53.98,-0.035],[54.04,-0.048],[54.10,-0.035],[54.13,-0.057],[54.19,-0.066],[54.25,-0.048],[54.30,-0.057],[54.34,-0.040],[54.40,-0.048],[54.45,-0.035],[54.51,-0.022],[54.57,-0.009],[54.62,0.021],[54.67,0.016],[54.72,-0.005],[54.77,-0.009],[54.82,-0.009],[54.88,-0.005],[54.94,0.003],[55.00,0.029]];

// Y tick values for each panel
const tauTicks = [0, 0.2, 0.4];
const zAbsTicks = [0, 0.08, 0.16, 0.24];
const zReTicks = [-0.2, 0, 0.2];
const zImTicks = [-0.2, -0.1, 0, 0.1];

const FONT = '"Liberation Sans", Arial, Helvetica, sans-serif';
const INK = '#111111';
const FRAME = '#3a3a3a';
const OBS = '#111111';
const MODEL = '#2626e6';
const BAND = '#dedede';
const XTITLE = 'time since the start of the deployment (days)';

const nameRich = {
  sup: { fontSize: 12, lineHeight: 12, verticalAlign: 'top', fontFamily: FONT, fill: INK, color: INK },
  sub: { fontSize: 12, lineHeight: 12, verticalAlign: 'bottom', fontFamily: FONT, fill: INK, color: INK }
};

const panels = [
  { tag: '(a)', top: 34, height: 124, min: 0, max: 0.4, ticks: tauTicks, nameX: 41,
    yName: "|τ'| (N m{sup|-2})",
    lines: [['observations', tauObs, OBS]], legendTop: null, zero: false },
  { tag: '(b)', top: 248, height: 123, min: 0, max: 0.26, ticks: zAbsTicks, nameX: 27,
    yName: "|Z{sub|E}'| (m s{sup|-1})",
    lines: [['model', zAbsModel, MODEL], ['observations', zAbsObs, OBS]], legendTop: 250, zero: false },
  { tag: '(c)', top: 463, height: 122, min: -0.26, max: 0.275, ticks: zReTicks, nameX: 33,
    yName: "ℜ(Z{sub|E}') (m s{sup|-1})",
    lines: [['model', zReModel, MODEL], ['observations', zReObs, OBS]], legendTop: 540, zero: true },
  { tag: '(d)', top: 676, height: 123, min: -0.2, max: 0.118, ticks: zImTicks, nameX: 32,
    yName: "ℑ(Z{sub|E}') (m s{sup|-1})",
    lines: [['model', zImModel, MODEL], ['observations', zImObs, OBS]], legendTop: 754, zero: true }
];

const grid = [], xAxis = [], yAxis = [], series = [], legend = [], graphic = [];

panels.forEach((p, i) => {
  grid.push({ left: 85, right: 29, top: p.top, height: p.height, show: true,
              borderColor: FRAME, borderWidth: 1, backgroundColor: 'transparent' });

  // bottom: days since deployment
  xAxis.push({
    type: 'value', gridIndex: i, position: 'bottom', min: 30, max: 55, interval: 5, z: 10,
    axisLine: { show: true, onZero: false, lineStyle: { color: FRAME, width: 1 } },
    axisTick: { show: true, inside: true, length: 7, lineStyle: { color: FRAME } },
    splitLine: { show: false },
    axisLabel: { color: INK, fontFamily: FONT, fontSize: 17, margin: 6 },
    name: XTITLE, nameLocation: 'middle', nameGap: 31,
    nameTextStyle: { color: INK, fontFamily: FONT, fontSize: 19.5 }
  });
  // top: calendar date
  xAxis.push({
    type: 'value', gridIndex: i, position: 'top', min: 30, max: 55, interval: 5, z: 10,
    axisLine: { show: true, onZero: false, lineStyle: { color: FRAME, width: 1 } },
    axisTick: { show: true, inside: true, length: 7, lineStyle: { color: FRAME } },
    splitLine: { show: false },
    axisLabel: { color: INK, fontFamily: FONT, fontSize: 15, margin: 6,
                 formatter: v => dateLabels[dayTicks.indexOf(v)] || '' }
  });

  yAxis.push({
    type: 'value', gridIndex: i, min: p.min, max: p.max, z: 10,
    axisLine: { show: true, onZero: false, lineStyle: { color: FRAME, width: 1 } },
    axisTick: { show: true, inside: true, length: 11, customValues: p.ticks, lineStyle: { color: FRAME } },
    splitLine: { show: false },
    axisLabel: { color: INK, fontFamily: FONT, fontSize: 17, margin: 7, customValues: p.ticks,
                 formatter: v => String(v) }
  });

  // shaded days and the zero reference line
  series.push({
    type: 'line', name: 'bands' + i, xAxisIndex: 2 * i, yAxisIndex: i, data: [], z: 1,
    silent: true, symbol: 'none',
    markArea: {
      silent: true,
      itemStyle: { color: BAND },
      label: { show: true, position: 'insideTop', distance: 6, color: INK, fontFamily: FONT,
               fontSize: 15, fontWeight: 'bold' },
      data: eventDays.map(d => [{ xAxis: d, name: String(d) }, { xAxis: d + 1 }])
    },
    markLine: p.zero ? {
      silent: true, symbol: 'none', label: { show: false },
      lineStyle: { color: '#6a6a6a', type: [6, 4], width: 1 },
      data: [{ yAxis: 0 }]
    } : undefined
  });

  p.lines.forEach(([name, data, color], k) => {
    series.push({
      type: 'line', name, xAxisIndex: 2 * i, yAxisIndex: i, data,
      symbol: 'none', showSymbol: false, z: 3 + k,
      lineStyle: { color, width: 1 }, itemStyle: { color },
      emphasis: { disabled: true }
    });
  });

  if (p.legendTop !== null) {
    legend.push({
      data: ['model', 'observations'], orient: 'vertical', left: 1039, top: p.legendTop,
      padding: [5, 6, 4, 6], itemGap: 2, itemWidth: 36, itemHeight: 1.2, icon: 'rect',
      borderColor: '#2a2a2a', borderWidth: 1, borderRadius: 0, backgroundColor: '#ffffff',
      textStyle: { color: INK, fontFamily: FONT, fontSize: 16, lineHeight: 16 },
      selectedMode: false
    });
  }

  graphic.push({
    type: 'text', x: p.nameX, y: p.top + p.height / 2, rotation: Math.PI / 2, z: 20,
    style: { text: p.yName, fill: INK, fontFamily: FONT, fontSize: 19, lineHeight: 26,
             align: 'center', verticalAlign: 'middle', textAlign: 'center', textVerticalAlign: 'middle',
             rich: nameRich }
  });
  graphic.push({
    type: 'text', x: 94, y: p.top + 14, z: 20,
    style: { text: p.tag, fill: INK, fontFamily: FONT, fontSize: 17.5, fontWeight: 'bold',
             align: 'left', verticalAlign: 'middle', textAlign: 'left', textVerticalAlign: 'middle' }
  });
});

const chart = echarts.init(document.getElementById('chart'), null, { renderer: 'canvas' });
chart.setOption({
  animation: false,
  backgroundColor: '#ffffff',
  grid, xAxis, yAxis, series, legend, graphic
});
</script>
</body>
</html>
